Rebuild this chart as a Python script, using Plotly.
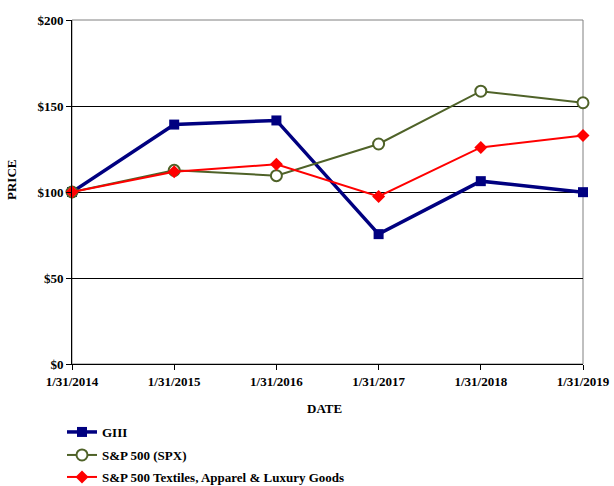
import plotly.graph_objects as go

dates = ["1/31/2014", "1/31/2015", "1/31/2016", "1/31/2017", "1/31/2018", "1/31/2019"]
giii = [100, 139.2, 141.6, 75.5, 106.3, 99.9]
spx = [100, 112.6, 109.5, 127.9, 158.6, 151.9]
textiles = [100, 111.8, 116.1, 97.4, 125.9, 132.9]
yticks = [0, 50, 100, 150, 200]
yticklabels = ["$0", "$50", "$100", "$150", "$200"]

W, H = 614, 486
xs = list(range(len(dates)))
FF = "Liberation Serif"
font = dict(family=FF, size=13, color="black")

fig = go.Figure()
fig.add_trace(go.Scatter(x=xs, y=giii, name="<b>GIII</b>", mode="lines+markers",
                         line=dict(color="#000080", width=3.5),
                         marker=dict(symbol="square", size=10, color="#000080"),
                         cliponaxis=False, legend="legend"))
fig.add_trace(go.Scatter(x=xs, y=spx, name="<b>S&P 500 (SPX)</b>", mode="lines+markers",
                         line=dict(color="#4F6228", width=2),
                         marker=dict(symbol="circle", size=11, color="white",
                                     line=dict(color="#4F6228", width=2)),
                         cliponaxis=False, legend="legend2"))
fig.add_trace(go.Scatter(x=xs, y=textiles, name="<b>S&P 500 Textiles, Apparel & Luxury Goods</b>",
                         mode="lines+markers",
                         line=dict(color="#FF0000", width=2),
                         marker=dict(symbol="diamond", size=10, color="#FF0000"),
                         cliponaxis=False, legend="legend3"))

fig.add_shape(type="rect", xref="paper", yref="paper", x0=0, y0=0, x1=1, y1=1,
              line=dict(color="#808080", width=1), layer="below")


def leg(ycenter_px):
    return dict(xref="container", yref="container", x=62 / W, y=1 - ycenter_px / H,
                xanchor="left", yanchor="middle", orientation="v",
                font=dict(family=FF, size=13, color="black"),
                bgcolor="rgba(0,0,0,0)", itemwidth=30)


fig.update_layout(
    width=W, height=H,
    margin=dict(l=72, r=614 - 583, t=20, b=486 - 364, autoexpand=False),
    paper_bgcolor="white", plot_bgcolor="white",
    font=font,
    showlegend=True,
    legend=leg(432), legend2=leg(455), legend3=leg(477),
    xaxis=dict(range=[0, 5], tickmode="array", tickvals=xs,
               ticktext=["<b>%s</b>" % d for d in dates],
               showgrid=False, zeroline=False, showline=True, linecolor="black", linewidth=1,
               ticks="outside", ticklen=5, tickcolor="black", automargin=False,
               tickfont=font),
    yaxis=dict(range=[0, 200], tickmode="array", tickvals=yticks,
               ticktext=["<b>%s</b>" % t for t in yticklabels],
               showgrid=True, gridcolor="black", gridwidth=1, zeroline=False,
               showline=True, linecolor="black", linewidth=1,
               ticks="outside", ticklen=5, tickcolor="black", automargin=False,
               tickfont=font),
    annotations=[
        dict(text="<b>DATE</b>", xref="paper", yref="paper",
             x=(324 - 72) / 511, y=(364 - 408) / 344, xanchor="center", yanchor="middle",
             showarrow=False, font=font),
        dict(text="<b>PRICE</b>", xref="paper", yref="paper",
             x=(11 - 72) / 511, y=(364 - 180) / 344, xanchor="center", yanchor="middle",
             textangle=-90, showarrow=False, font=font),
    ],
)

fig.write_html("out.html",
               config={"displayModeBar": False},
               post_script="document.body.style.margin='0px';document.body.style.overflow='hidden';")
